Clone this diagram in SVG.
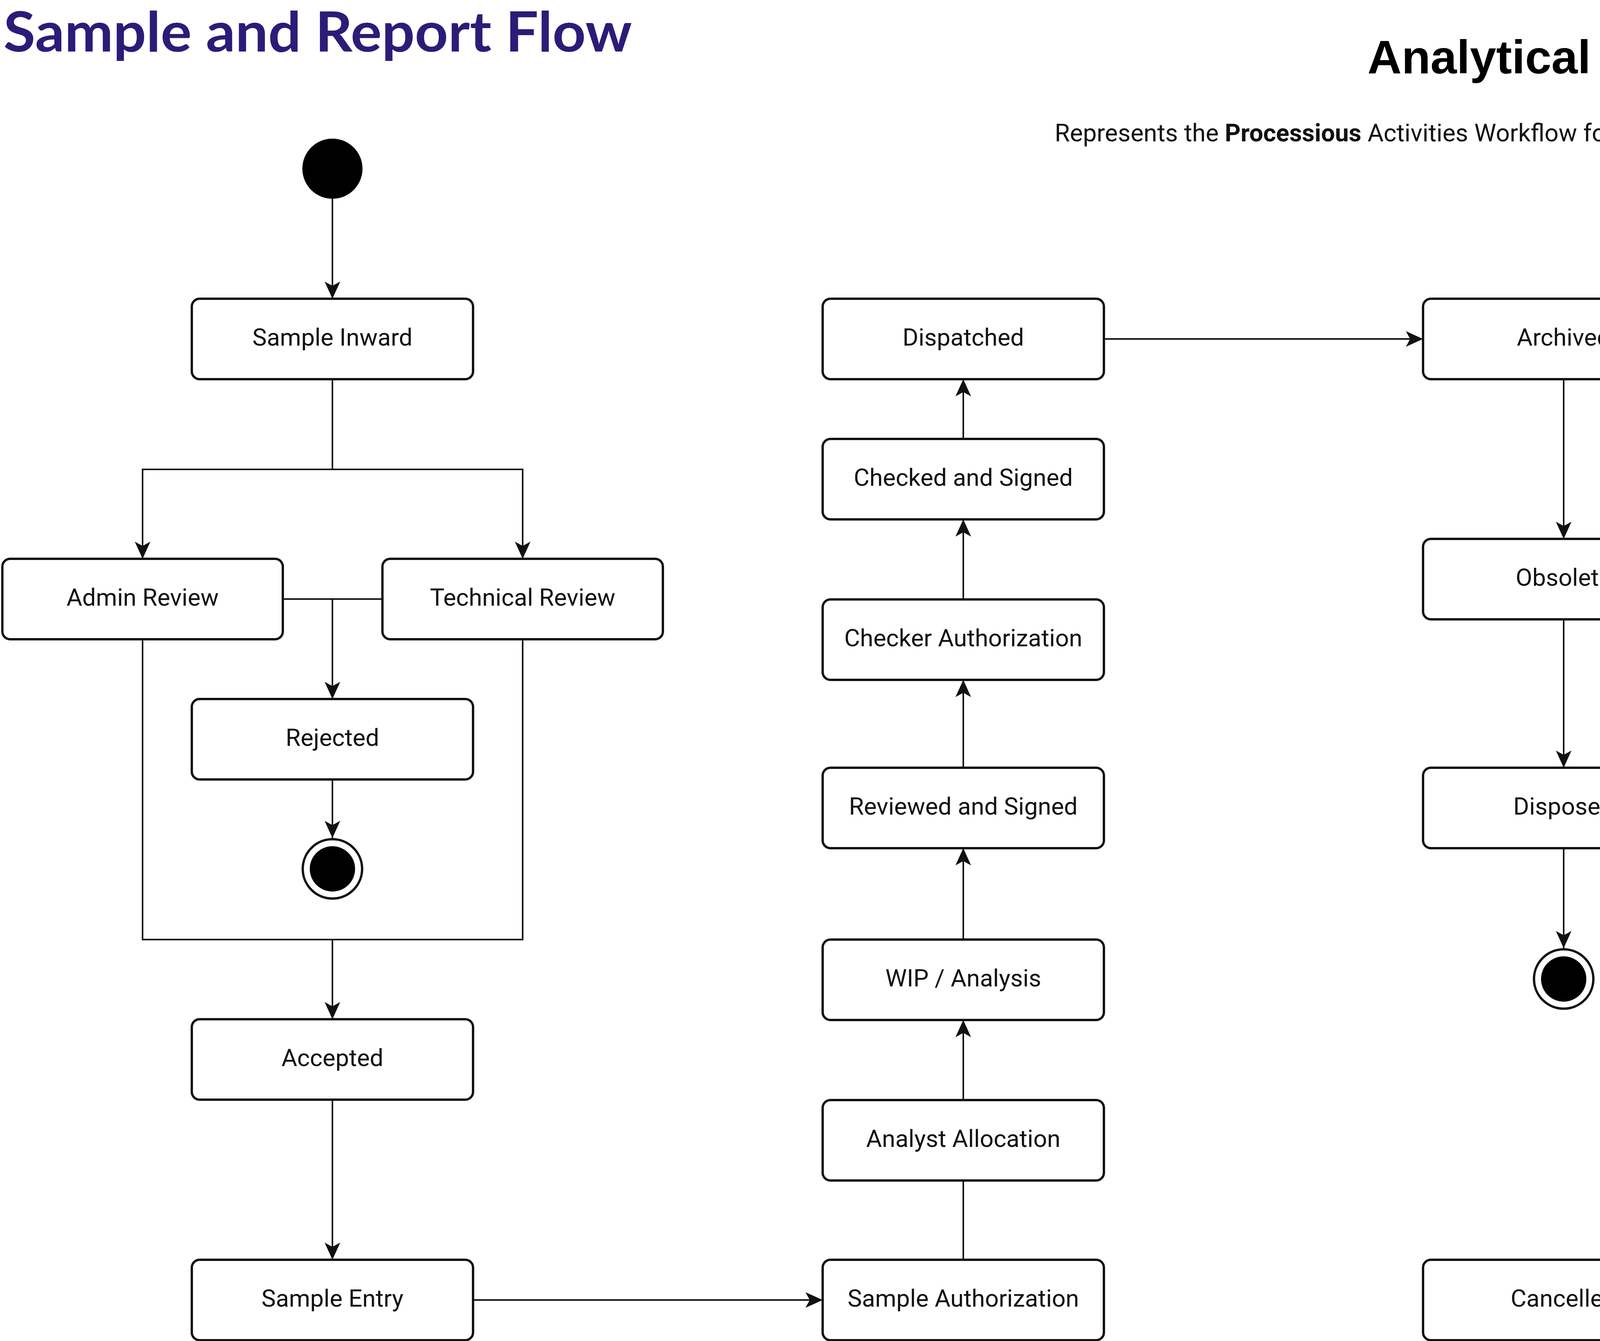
<svg xmlns="http://www.w3.org/2000/svg" width="4932" height="3434" viewBox="0 0 4932 3434">
<style>
.node rect{fill:#fff;stroke:#111;stroke-width:6}
.node text{font-family:Roboto,"Liberation Sans",Arial,sans-serif;font-size:62px;fill:#111;text-anchor:middle}
.conn path{fill:none;stroke:#111;stroke-width:4}
.ring{fill:#fff;stroke:#111;stroke-width:6}
.dot{fill:#000}
</style>
<defs>
<marker id="arr" markerUnits="userSpaceOnUse" markerWidth="44" markerHeight="40" viewBox="0 0 44 40" refX="44" refY="20" orient="auto">
<path d="M0,0 L44,20 L0,40 L11,20 Z" fill="#111"/>
</marker>
</defs>
<rect width="4932" height="3434" fill="#fff"/>
<text x="9" y="132" font-family="Lato,'Open Sans',sans-serif" font-weight="bold" font-size="142" fill="#2a1d78" textLength="1609" lengthAdjust="spacingAndGlyphs">Sample and Report Flow</text>
<text x="4897" y="188" font-family="'Liberation Sans',Arial,sans-serif" font-weight="bold" font-size="121" fill="#000" text-anchor="end">Analytical Lab Workflow</text>
<text x="4896" y="362" font-family="Roboto,'Liberation Sans',sans-serif" font-size="63" fill="#111" text-anchor="end">Represents the <tspan font-weight="bold">Processious</tspan> Activities Workflow for <tspan font-weight="bold">Chemo Testing Laboratory</tspan></text>

<g class="conn">
<path d="M851,509 V765" marker-end="url(#arr)"/>
<path d="M851,971 V1202 H365 V1431" marker-end="url(#arr)"/>
<path d="M851,1202 H1338 V1431" marker-end="url(#arr)"/>
<path d="M724,1534 H979"/>
<path d="M851,1534 V1790" marker-end="url(#arr)"/>
<path d="M851,1996 V2146" marker-end="url(#arr)"/>
<path d="M365,1637 V2406 H1338 V1637"/>
<path d="M851,2406 V2610" marker-end="url(#arr)"/>
<path d="M851,2816 V3226" marker-end="url(#arr)"/>
<path d="M1211,3329 H2106" marker-end="url(#arr)"/>
<path d="M2466,3226 V3023"/>
<path d="M2466,2817 V2612" marker-end="url(#arr)"/>
<path d="M2466,2406 V2172" marker-end="url(#arr)"/>
<path d="M2466,1966 V1741" marker-end="url(#arr)"/>
<path d="M2466,1535 V1330" marker-end="url(#arr)"/>
<path d="M2466,1124 V971" marker-end="url(#arr)"/>
<path d="M2826,868 H3643" marker-end="url(#arr)"/>
<path d="M4003,971 V1380" marker-end="url(#arr)"/>
<path d="M4003,1586 V1966" marker-end="url(#arr)"/>
<path d="M4003,2172 V2428" marker-end="url(#arr)"/>
<path d="M4363,3329 H4719" marker-end="url(#arr)"/>
</g>

<g id="start"><circle class="dot" cx="851" cy="432" r="77"/></g>

<g id="sample-inward" class="node"><rect x="491" y="765" width="720" height="206" rx="20"/><text x="851" y="885">Sample Inward</text></g>
<g id="admin-review" class="node"><rect x="6" y="1431" width="718" height="206" rx="20"/><text x="365" y="1551">Admin Review</text></g>
<g id="technical-review" class="node"><rect x="979" y="1431" width="718" height="206" rx="20"/><text x="1338" y="1551">Technical Review</text></g>
<g id="rejected" class="node"><rect x="491" y="1790" width="720" height="206" rx="20"/><text x="851" y="1910">Rejected</text></g>
<g id="end-rejected"><circle class="ring" cx="851" cy="2225" r="76"/><circle class="dot" cx="851" cy="2225" r="58"/></g>
<g id="accepted" class="node"><rect x="491" y="2610" width="720" height="206" rx="20"/><text x="851" y="2730">Accepted</text></g>
<g id="sample-entry" class="node"><rect x="491" y="3226" width="720" height="206" rx="20"/><text x="851" y="3346">Sample Entry</text></g>

<g id="dispatched" class="node"><rect x="2106" y="765" width="720" height="206" rx="20"/><text x="2466" y="885">Dispatched</text></g>
<g id="checked-signed" class="node"><rect x="2106" y="1124" width="720" height="206" rx="20"/><text x="2466" y="1244">Checked and Signed</text></g>
<g id="checker-authorization" class="node"><rect x="2106" y="1535" width="720" height="206" rx="20"/><text x="2466" y="1655">Checker Authorization</text></g>
<g id="reviewed-signed" class="node"><rect x="2106" y="1966" width="720" height="206" rx="20"/><text x="2466" y="2086">Reviewed and Signed</text></g>
<g id="wip-analysis" class="node"><rect x="2106" y="2406" width="720" height="206" rx="20"/><text x="2466" y="2526">WIP / Analysis</text></g>
<g id="analyst-allocation" class="node"><rect x="2106" y="2817" width="720" height="206" rx="20"/><text x="2466" y="2937">Analyst Allocation</text></g>
<g id="sample-authorization" class="node"><rect x="2106" y="3226" width="720" height="206" rx="20"/><text x="2466" y="3346">Sample Authorization</text></g>

<g id="archived" class="node"><rect x="3643" y="765" width="720" height="206" rx="20"/><text x="4003" y="885">Archived</text></g>
<g id="obsolete" class="node"><rect x="3643" y="1380" width="720" height="206" rx="20"/><text x="4003" y="1500">Obsolete</text></g>
<g id="disposed" class="node"><rect x="3643" y="1966" width="720" height="206" rx="20"/><text x="4003" y="2086">Disposed</text></g>
<g id="end-disposed"><circle class="ring" cx="4003" cy="2507" r="76"/><circle class="dot" cx="4003" cy="2507" r="58"/></g>
<g id="cancelled" class="node"><rect x="3643" y="3226" width="720" height="206" rx="20"/><text x="4003" y="3346">Cancelled</text></g>
<g id="end-cancelled"><circle class="ring" cx="4798" cy="3329" r="76"/><circle class="dot" cx="4798" cy="3329" r="58"/></g>
</svg>
